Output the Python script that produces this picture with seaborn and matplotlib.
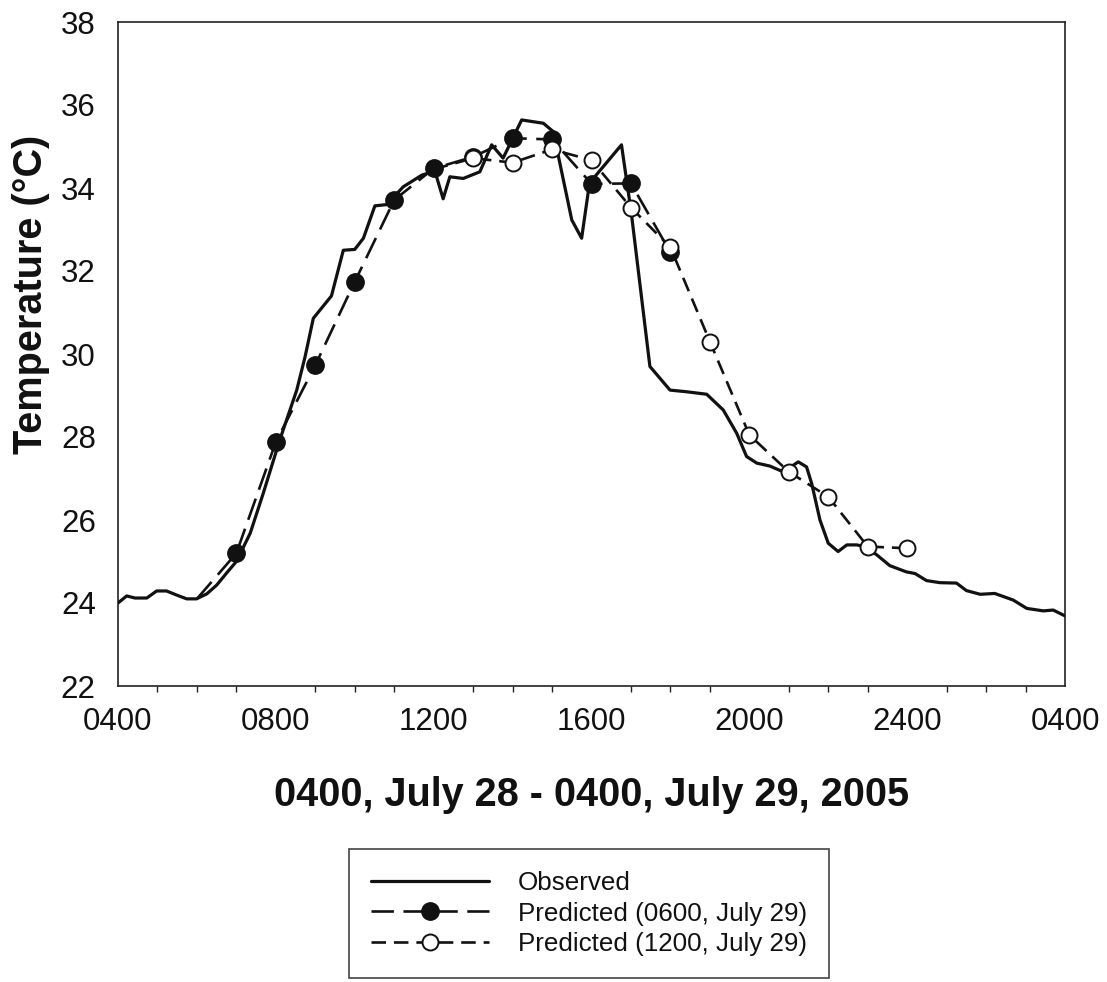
import numpy as np
import pandas as pd
import matplotlib
matplotlib.use("Agg")
import matplotlib.pyplot as plt
import seaborn as sns

# ---- data ----
obs_hours = [4.0, 4.22, 4.43, 4.73, 4.98, 5.23, 5.49, 5.74, 5.99, 6.25, 6.5, 6.75,
             7.0, 7.35, 7.68, 8.1, 8.53, 8.74, 8.95, 9.41, 9.71, 10.0, 10.22, 10.51,
             10.81, 11.23, 11.7, 12.03, 12.24, 12.41, 12.75, 13.17, 13.47, 13.76,
             14.23, 14.78, 15.03, 15.5, 15.75, 15.95, 16.76, 17.01, 17.48, 17.99,
             18.41, 18.92, 19.34, 19.68, 19.93, 20.19, 20.52, 20.86, 21.24, 21.45,
             21.58, 21.79, 22.0, 22.25, 22.47, 22.72, 22.93, 23.23, 23.56, 23.98,
             24.2, 24.49, 24.83, 25.25, 25.5, 25.85, 26.22, 26.69, 27.03, 27.45,
             27.7, 28.0]
obs_temp = [24.0, 24.17, 24.12, 24.12, 24.29, 24.29, 24.19, 24.1, 24.1, 24.22, 24.43, 24.72,
            25.0, 25.68, 26.64, 27.93, 29.13, 29.93, 30.86, 31.4, 32.5, 32.52, 32.79, 33.57,
            33.6, 34.03, 34.31, 34.41, 33.74, 34.27, 34.23, 34.39, 35.04, 34.72,
            35.64, 35.56, 35.36, 33.23, 32.79, 34.12, 35.04, 33.39, 29.7, 29.13,
            29.09, 29.03, 28.65, 28.09, 27.53, 27.37, 27.3, 27.16, 27.4, 27.28,
            26.88, 26.0, 25.44, 25.24, 25.4, 25.4, 25.36, 25.16, 24.9, 24.75,
            24.71, 24.54, 24.49, 24.48, 24.3, 24.21, 24.23, 24.07, 23.87, 23.81,
            23.83, 23.69]

pred06_hours = [6, 7, 8, 9, 10, 11, 12, 13, 14, 15, 16, 17, 18]
pred06_temp = [24.1, 25.2, 27.88, 29.73, 31.74, 33.71, 34.47, 34.75, 35.2, 35.17, 34.1, 34.11, 32.45]

pred12_hours = [12, 13, 14, 15, 16, 17, 18, 19, 20, 21, 22, 23, 24]
pred12_temp = [34.45, 34.72, 34.61, 34.93, 34.67, 33.53, 32.57, 30.3, 28.05, 27.16, 26.56, 25.36, 25.32]

xtick_pos = [4, 8, 12, 16, 20, 24, 28]
xtick_labels = ["0400", "0800", "1200", "1600", "2000", "2400", "0400"]
ytick_pos = [22, 24, 26, 28, 30, 32, 34, 36, 38]

labels = ["Observed", "Predicted (0600, July 29)", "Predicted (1200, July 29)"]

# ---- style ----
sns.set_theme(style="white")
plt.rcParams["font.family"] = ["Liberation Sans", "DejaVu Sans"]

fig = plt.figure(figsize=(11.07, 9.82), dpi=100)
ax = fig.add_axes([118 / 1107, 1 - 686 / 982, (1065 - 118) / 1107, (686 - 22) / 982])

df_obs = pd.DataFrame({"h": obs_hours, "t": obs_temp})
df_06 = pd.DataFrame({"h": pred06_hours, "t": pred06_temp})
df_12 = pd.DataFrame({"h": pred12_hours, "t": pred12_temp})

ink = "#111111"
sns.lineplot(data=df_obs, x="h", y="t", ax=ax, color=ink, linewidth=2.3,
             label=labels[0], zorder=3)
sns.lineplot(data=df_06, x="h", y="t", ax=ax, color=ink, linewidth=1.9,
             linestyle=(0, (8.5, 3.6)), marker="o", markersize=12.5,
             markerfacecolor=ink, markeredgecolor=ink, markeredgewidth=1.0,
             markevery=list(range(1, len(pred06_hours))),
             label=labels[1], zorder=4)
sns.lineplot(data=df_12, x="h", y="t", ax=ax, color=ink, linewidth=1.9,
             linestyle=(0, (5.5, 3.0)), marker="o", markersize=11.5,
             markerfacecolor="white", markeredgecolor=ink, markeredgewidth=1.4,
             markevery=list(range(1, len(pred12_hours))),
             label=labels[2], zorder=5)

ax.set_xlim(4, 28)
ax.set_ylim(22, 38)
ax.set_xticks(xtick_pos)
ax.set_xticklabels(xtick_labels)
ax.set_xticks(np.arange(4, 29, 1), minor=True)
ax.set_yticks(ytick_pos)
ax.set_yticklabels([str(v) for v in ytick_pos])

for sp in ax.spines.values():
    sp.set_visible(True)
    sp.set_color("#222222")
    sp.set_linewidth(1.2)

ax.tick_params(axis="both", which="major", direction="out", length=7, width=1.2,
               color="#222222", labelsize=22.5, labelcolor=ink)
ax.tick_params(axis="x", which="major", pad=8)
ax.tick_params(axis="y", which="major", pad=9)
ax.tick_params(axis="x", which="minor", direction="out", length=4, width=1.0,
               color="#222222", bottom=True)
ax.tick_params(axis="y", which="minor", left=False)

ax.set_xlabel("0400, July 28 - 0400, July 29, 2005", fontsize=28.5,
              fontweight="bold", color=ink)
ax.set_ylabel("Temperature (\u00b0C)", fontsize=28.5, fontweight="bold", color=ink)
ax.xaxis.set_label_coords(0.5, -0.135)
ax.yaxis.set_label_coords(-0.072, 0.59)

leg = ax.legend(loc="upper center", bbox_to_anchor=(589 / 1107, 1 - 849 / 982),
                bbox_transform=fig.transFigure, borderaxespad=0, fontsize=18.7,
                frameon=True, fancybox=False, framealpha=1, edgecolor="#444444",
                handlelength=4.55, handletextpad=1.1, labelspacing=0.24,
                borderpad=0.86)
leg.get_frame().set_linewidth(1.2)
for t in leg.get_texts():
    t.set_color(ink)

fig.savefig("out.png", dpi=100)
